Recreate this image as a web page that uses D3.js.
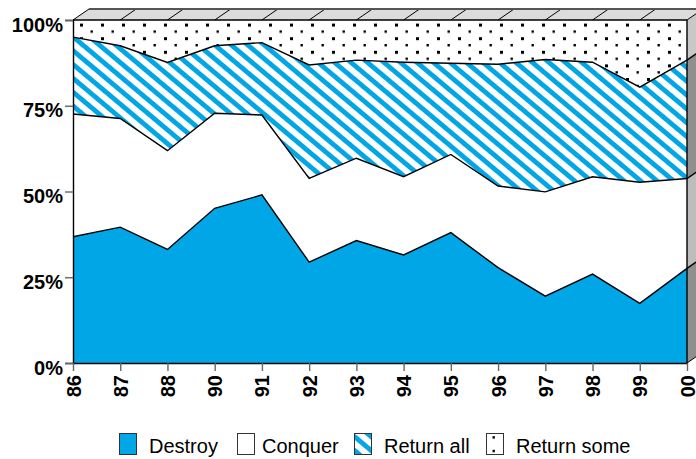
<!DOCTYPE html>
<html>
<head>
<meta charset="utf-8">
<script src="https://cdn.jsdelivr.net/npm/d3@7"></script>
<style>
  body { margin: 0; background: #fff; }
  svg { display: block; font-family: "Liberation Sans", Arial, sans-serif; }
</style>
</head>
<body>
<figure id="chart" style="margin:0"></figure>
<script>
// years on the x axis
const years = ["86", "87", "88", "90", "91", "92", "93", "94", "95", "96", "97", "98", "99", "00"];

// percent shares
const destroy    = [36.8, 39.6, 33.1, 45.1, 49.0, 29.4, 35.7, 31.5, 38.0, 27.8, 19.5, 25.9, 17.4, 27.6];
const conquer    = [35.8, 31.7, 28.8, 27.7, 23.3, 24.4, 24.0, 22.8, 22.8, 23.8, 30.4, 28.4, 35.3, 26.2];
const returnAll  = [22.4, 21.2, 25.7, 19.7, 21.1, 33.1, 28.6, 33.4, 26.6, 35.5, 38.6, 33.4, 27.7, 34.5];
const returnSome = [5.0, 7.5, 12.4, 7.5, 6.6, 13.1, 11.7, 12.3, 12.6, 12.9, 11.5, 12.3, 19.6, 11.7];

const seriesNames = ["Destroy", "Conquer", "Return all", "Return some"];
const yTicks = [0, 25, 50, 75, 100];

const width = 696, height = 459;
const plotLeft = 73, plotRight = 687, plotTop = 20, plotBottom = 363;
const depthX = 16, depthY = 11;
const blue = "#00a6e6";

const rows = years.map((y, i) => ({
  year: y,
  "Destroy": destroy[i],
  "Conquer": conquer[i],
  "Return all": returnAll[i],
  "Return some": returnSome[i]
}));

const svg = d3.select("#chart")
  .append("svg")
  .attr("width", width)
  .attr("height", height);

// fill patterns
const defs = svg.append("defs");
const stripes = defs.append("pattern")
  .attr("id", "stripes")
  .attr("patternUnits", "userSpaceOnUse")
  .attr("width", 20)
  .attr("height", 10.6)
  .attr("patternTransform", "rotate(40)");
stripes.append("rect").attr("width", 20).attr("height", 10.6).attr("fill", "#fff");
stripes.append("rect").attr("width", 20).attr("height", 4.8).attr("fill", blue);

const dots = defs.append("pattern")
  .attr("id", "dots")
  .attr("patternUnits", "userSpaceOnUse")
  .attr("x", 17).attr("y", 10)
  .attr("width", 21)
  .attr("height", 13.6);
dots.append("rect").attr("width", 21).attr("height", 13.6).attr("fill", "#fff");
dots.append("rect").attr("x", 0).attr("y", 0).attr("width", 3).attr("height", 3).attr("fill", "#000");
dots.append("rect").attr("x", 10.5).attr("y", 6.8).attr("width", 2.4).attr("height", 2.4).attr("fill", "#000");

const fills = {
  "Destroy": blue,
  "Conquer": "#fff",
  "Return all": "url(#stripes)",
  "Return some": "url(#dots)"
};
const sideFills = {
  "Destroy": "#8f8f8f",
  "Conquer": "#bdbdbd",
  "Return all": "#8f8f8f",
  "Return some": "#c8c8c8"
};

// scales
const x = d3.scalePoint()
  .domain(years)
  .range([plotLeft, plotRight]);

const y = d3.scaleLinear()
  .domain([0, 1])
  .range([plotBottom, plotTop]);

const stacked = d3.stack()
  .keys(seriesNames)
  .offset(d3.stackOffsetExpand)(rows);

// areas
const area = d3.area()
  .x(d => x(d.data.year))
  .y0(d => y(d[0]))
  .y1(d => y(d[1]));

svg.append("g")
  .selectAll("path")
  .data(stacked)
  .enter()
  .append("path")
  .attr("d", area)
  .attr("fill", d => fills[d.key]);

// right side faces (3d depth)
const last = years[years.length - 1];
svg.append("g")
  .selectAll("path")
  .data(stacked)
  .enter()
  .append("path")
  .attr("d", s => {
    const d = s[s.length - 1];
    const xe = x(last);
    return `M${xe},${y(d[0])}L${xe},${y(d[1])}L${xe + depthX},${y(d[1]) - depthY}L${xe + depthX},${y(d[0]) - depthY}Z`;
  })
  .attr("fill", d => sideFills[d.key]);

// boundary lines
const line = d3.line()
  .x(d => x(d.data.year))
  .y(d => y(d[1]));

svg.append("g")
  .selectAll("path")
  .data(stacked.slice(0, 3))
  .enter()
  .append("path")
  .attr("d", s => {
    const d = s[s.length - 1];
    return line(s) + `L${x(last) + depthX},${y(d[1]) - depthY}`;
  })
  .attr("fill", "none")
  .attr("stroke", "#000")
  .attr("stroke-width", 1.4);

// top face
svg.append("path")
  .attr("d", `M${plotLeft},${plotTop}L${plotLeft + depthX},${plotTop - depthY}L${plotRight + depthX},${plotTop - depthY}L${plotRight},${plotTop}Z`)
  .attr("fill", "#dcdcdc");

svg.append("g")
  .selectAll("line")
  .data(years)
  .enter()
  .append("line")
  .attr("x1", d => x(d))
  .attr("y1", plotTop)
  .attr("x2", d => x(d) + depthX)
  .attr("y2", plotTop - depthY)
  .attr("stroke", "#000")
  .attr("stroke-width", 1);

svg.append("line")
  .attr("x1", plotLeft + depthX).attr("y1", plotTop - depthY)
  .attr("x2", plotRight + depthX).attr("y2", plotTop - depthY)
  .attr("stroke", "#555")
  .attr("stroke-width", 2);

svg.append("line")
  .attr("x1", plotLeft).attr("y1", plotTop)
  .attr("x2", plotRight).attr("y2", plotTop)
  .attr("stroke", "#000")
  .attr("stroke-width", 1.4);

// front right edge
svg.append("line")
  .attr("x1", plotRight).attr("y1", plotTop)
  .attr("x2", plotRight).attr("y2", plotBottom)
  .attr("stroke", "#000")
  .attr("stroke-width", 1.4);

svg.append("line")
  .attr("x1", plotRight).attr("y1", plotBottom)
  .attr("x2", plotRight + depthX).attr("y2", plotBottom - depthY)
  .attr("stroke", "#000")
  .attr("stroke-width", 1);

// y axis
const yAxis = svg.append("g")
  .attr("transform", `translate(${plotLeft},0)`)
  .call(d3.axisLeft(y).tickValues(yTicks.map(v => v / 100)).tickSize(8).tickFormat(d => Math.round(d * 100) + "%"));
yAxis.select(".domain").attr("stroke", "#000").attr("stroke-width", 1.4);
yAxis.selectAll(".tick line").attr("stroke", "#666").attr("stroke-width", 1.4);
yAxis.selectAll(".tick text")
  .attr("x", -10)
  .attr("dy", "0.55em")
  .attr("fill", "#000")
  .style("font-size", "20px")
  .style("font-weight", "bold");

// x axis
const xAxis = svg.append("g")
  .attr("transform", `translate(0,${plotBottom})`)
  .call(d3.axisBottom(x).tickSize(8).tickSizeOuter(0));
xAxis.select(".domain").attr("stroke", "#000").attr("stroke-width", 1.4);
xAxis.selectAll(".tick line").attr("stroke", "#666").attr("stroke-width", 1.4);
xAxis.selectAll(".tick text")
  .attr("transform", "rotate(-90)")
  .attr("x", -12)
  .attr("y", 7)
  .attr("dy", 0)
  .style("text-anchor", "end")
  .attr("fill", "#000")
  .style("font-size", "20px")
  .style("font-weight", "bold");

// legend
const legendX = [119, 237, 354, 486];
const legend = svg.append("g")
  .selectAll("g")
  .data(seriesNames)
  .enter()
  .append("g")
  .attr("transform", (d, i) => `translate(${legendX[i]},433)`);

legend.append("rect")
  .attr("x", 0.5)
  .attr("y", 0.5)
  .attr("width", 17)
  .attr("height", 21)
  .attr("fill", d => fills[d])
  .attr("stroke", "#333")
  .attr("stroke-width", 1);

legend.append("text")
  .attr("x", (d, i) => i === 1 ? 25 : 30)
  .attr("y", 20)
  .style("font-size", "20px")
  .attr("fill", "#000")
  .text(d => d);
</script>
</body>
</html>
